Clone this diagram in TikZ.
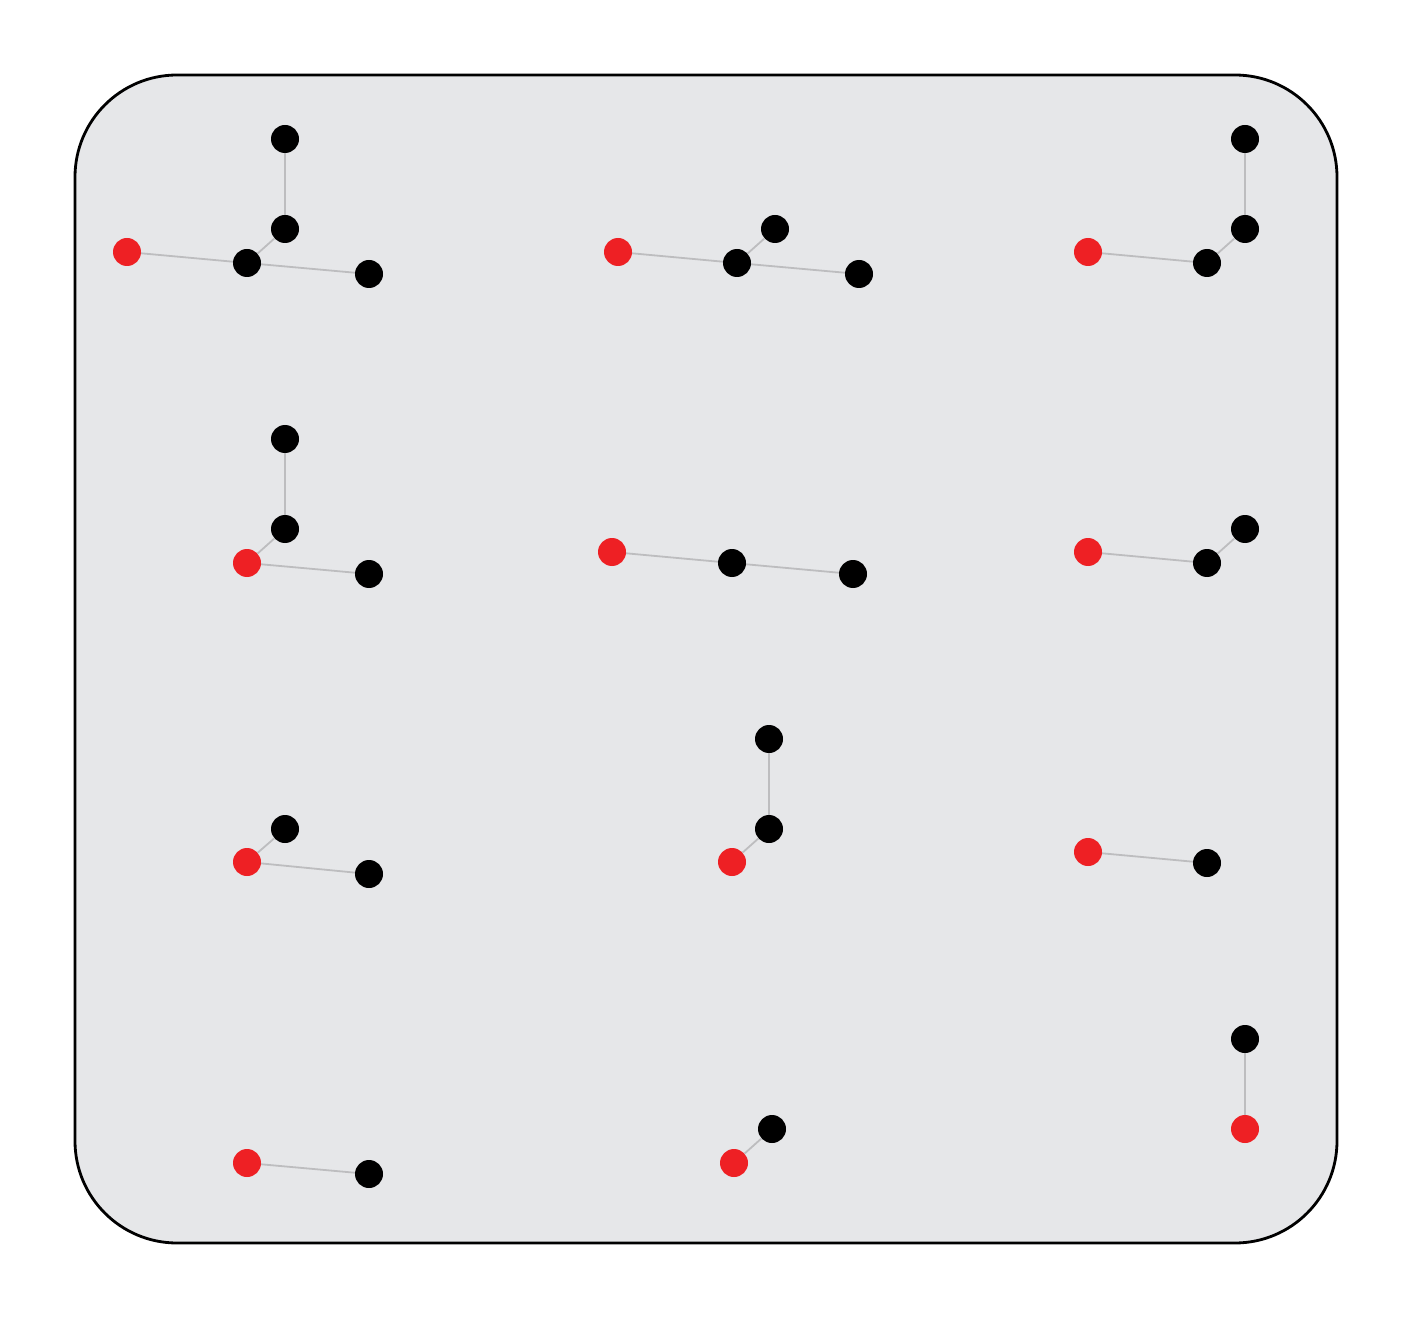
\documentclass[tikz,border=0pt]{standalone}
\definecolor{panelgray}{HTML}{E6E7E9}
\definecolor{edgegray}{HTML}{BDBDBF}
\definecolor{rootred}{HTML}{EE2024}
\tikzset{
  vtx/.style={circle, fill=black, minimum size=28pt, inner sep=0pt},
  rootvtx/.style={circle, fill=rootred, minimum size=28pt, inner sep=0pt},
  edg/.style={draw=edgegray, line width=1.8pt},
}
\begin{document}
\begin{tikzpicture}[x=1pt,y=-1pt]
\useasboundingbox (0,0) rectangle (1409,1321);
\draw[fill=panelgray, line width=2.8pt, rounded corners=102pt] (75,75) rectangle (1337,1243);
% Row 1, panel 1
\node[rootvtx] (a1) at (127,252) {};
\node[vtx] (a2) at (247,263) {};
\node[vtx] (a3) at (369,274) {};
\node[vtx] (a4) at (285,229) {};
\node[vtx] (a5) at (285,139) {};
% Row 1, panel 2
\node[rootvtx] (b1) at (618,252) {};
\node[vtx] (b2) at (737,263) {};
\node[vtx] (b3) at (859,274) {};
\node[vtx] (b4) at (775,229) {};
% Row 1, panel 3
\node[rootvtx] (c1) at (1088,252) {};
\node[vtx] (c2) at (1207,263) {};
\node[vtx] (c3) at (1245,229) {};
\node[vtx] (c4) at (1245,139) {};
% Row 2, panel 1
\node[vtx] (d1) at (285,439) {};
\node[vtx] (d2) at (285,529) {};
\node[rootvtx] (d3) at (247,563) {};
\node[vtx] (d4) at (369,574) {};
% Row 2, panel 2
\node[rootvtx] (e1) at (612,552) {};
\node[vtx] (e2) at (732,563) {};
\node[vtx] (e3) at (853,574) {};
% Row 2, panel 3
\node[rootvtx] (f1) at (1088,552) {};
\node[vtx] (f2) at (1207,563) {};
\node[vtx] (f3) at (1245,529) {};
% Row 3, panel 1
\node[rootvtx] (g1) at (247,862) {};
\node[vtx] (g2) at (285,829) {};
\node[vtx] (g3) at (369,874) {};
% Row 3, panel 2
\node[vtx] (h1) at (769,739) {};
\node[vtx] (h2) at (769,829) {};
\node[rootvtx] (h3) at (732,862) {};
% Row 3, panel 3
\node[rootvtx] (i1) at (1088,852) {};
\node[vtx] (i2) at (1207,863) {};
% Row 4, panel 1
\node[rootvtx] (j1) at (247,1163) {};
\node[vtx] (j2) at (369,1174) {};
% Row 4, panel 2
\node[rootvtx] (k1) at (734,1163) {};
\node[vtx] (k2) at (772,1129) {};
% Row 4, panel 3
\node[vtx] (l1) at (1245,1039) {};
\node[rootvtx] (l2) at (1245,1129) {};
% edges
\path[edg] (a1) -- (a2) (a2) -- (a3) (a2) -- (a4) (a4) -- (a5)
  (b1) -- (b2) (b2) -- (b3) (b2) -- (b4)
  (c1) -- (c2) (c2) -- (c3) (c3) -- (c4)
  (d1) -- (d2) (d2) -- (d3) (d3) -- (d4)
  (e1) -- (e2) (e2) -- (e3)
  (f1) -- (f2) (f2) -- (f3)
  (g1) -- (g2) (g1) -- (g3)
  (h1) -- (h2) (h2) -- (h3)
  (i1) -- (i2)
  (j1) -- (j2)
  (k1) -- (k2)
  (l1) -- (l2);
\end{tikzpicture}
\end{document}
